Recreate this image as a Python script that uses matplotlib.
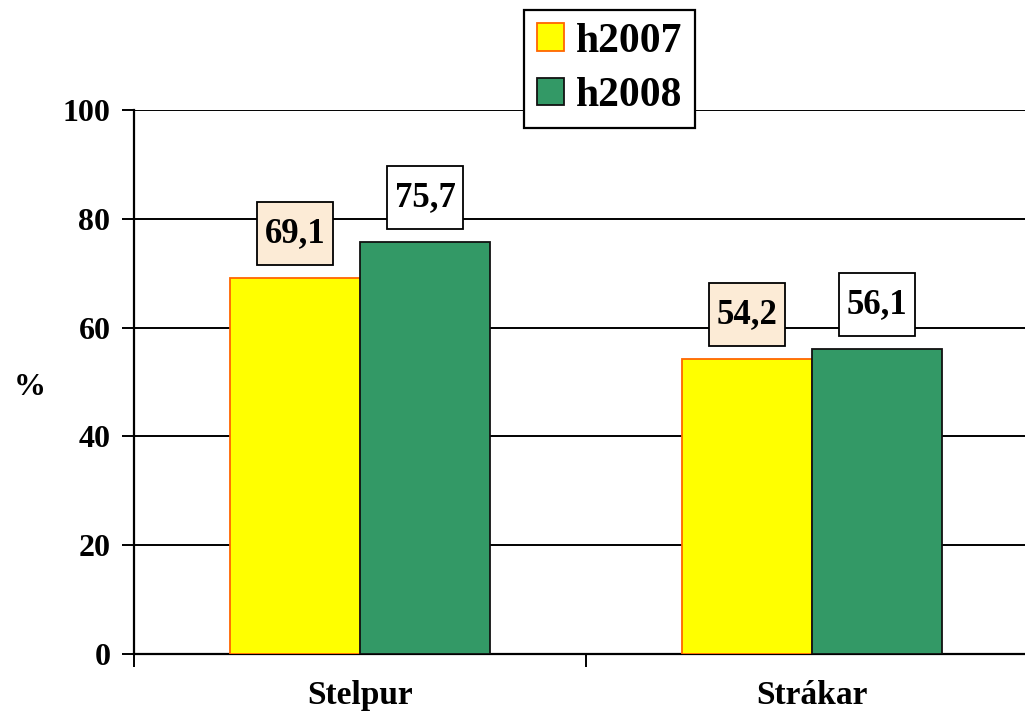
import matplotlib
matplotlib.use("Agg")
import matplotlib.pyplot as plt
import numpy as np
from matplotlib.patches import Patch
from matplotlib.path import Path

categories = ["Stelpur", "Strákar"]
series_names = ["h2007", "h2008"]
values_2007 = [69.1, 54.2]
values_2008 = [75.7, 56.1]
label_2007 = ["69,1", "54,2"]
label_2008 = ["75,7", "56,1"]
yticks = [0, 20, 40, 60, 80, 100]

plt.rcParams['font.family'] = ['Liberation Serif', 'DejaVu Serif']
plt.rcParams['font.weight'] = 'bold'

DPI = 100
fig = plt.figure(figsize=(10.25, 7.17), dpi=DPI)
ax = fig.add_axes([134/1025, 63/717, 904/1025, 544/717])

x = np.arange(len(categories))
w = 0.2876
b1 = ax.bar(x - w/2, values_2007, w, color='#FFFF00', edgecolor='#FF6600', linewidth=1.3, zorder=3)
b2 = ax.bar(x + w/2, values_2008, w, color='#339966', edgecolor='#111111', linewidth=1.3, zorder=3)

ax.set_xlim(-0.5, len(categories) - 0.5)
ax.set_ylim(0, 100)
ax.set_yticks(yticks)
ax.set_yticklabels([str(t) for t in yticks], fontsize=23, fontweight='bold')
ax.yaxis.grid(True, color='black', linewidth=1.4, zorder=1)
ax.set_axisbelow(True)

ax.set_xticks(np.arange(-0.5, len(categories), 1.0))
ax.set_xticklabels([])
ax.set_xticks(x, minor=True)
ax.set_xticklabels(categories, minor=True, fontsize=24, fontweight='bold')
ax.tick_params(axis='x', which='minor', length=0, pad=19)
ax.tick_params(axis='x', which='major', length=9, width=1.4, direction='out')
ax.tick_params(axis='y', length=9, width=1.4, direction='out', pad=8)

for s in ['top', 'right']:
    ax.spines[s].set_visible(False)
for s in ['left', 'bottom']:
    ax.spines[s].set_linewidth(1.6)
    ax.spines[s].set_color('black')

ax.set_ylabel('%', rotation=0, fontsize=23, fontweight='bold', va='center')
ax.yaxis.set_label_coords(-0.115, 0.49)

FS = 25  # data label font size (pt)
PADX = 8   # px
PADY = 15  # px

def box_func(x0, y0, width, height, mutation_size):
    x0 -= PADX; y0 -= PADY
    x1 = x0 + width + 2*PADX; y1 = y0 + height + 2*PADY
    return Path([(x0, y0), (x1, y0), (x1, y1), (x0, y1), (x0, y0)], closed=True)

def add_labels(bars, labels, fc):
    for rect, lab in zip(bars, labels):
        ax.annotate(lab, (rect.get_x() + rect.get_width()/2, rect.get_height()),
                    xytext=(0, (13 + PADY) * 72 / DPI), textcoords='offset points',
                    ha='center', va='bottom', fontsize=FS, fontweight='bold',
                    bbox=dict(boxstyle=box_func, fc=fc, ec='black', lw=1.3),
                    zorder=5, annotation_clip=False)

add_labels(b1, label_2007, '#FCEBD6')
add_labels(b2, label_2008, 'white')

handles = [Patch(facecolor='#FFFF00', edgecolor='#FF6600', linewidth=1.3),
           Patch(facecolor='#339966', edgecolor='#111111', linewidth=1.3)]
leg = fig.legend(handles, series_names, loc='upper left',
                 bbox_to_anchor=(524/1025, 1 - 10/717),
                 prop={'size': 30, 'weight': 'bold'},
                 frameon=True, fancybox=False, edgecolor='black', framealpha=1,
                 handlelength=0.65, handleheight=0.65, handletextpad=0.3,
                 borderpad=0.3, labelspacing=0.4, borderaxespad=0)
leg.get_frame().set_linewidth(1.6)
leg.set_zorder(10)

fig.savefig('out.png', dpi=DPI)
